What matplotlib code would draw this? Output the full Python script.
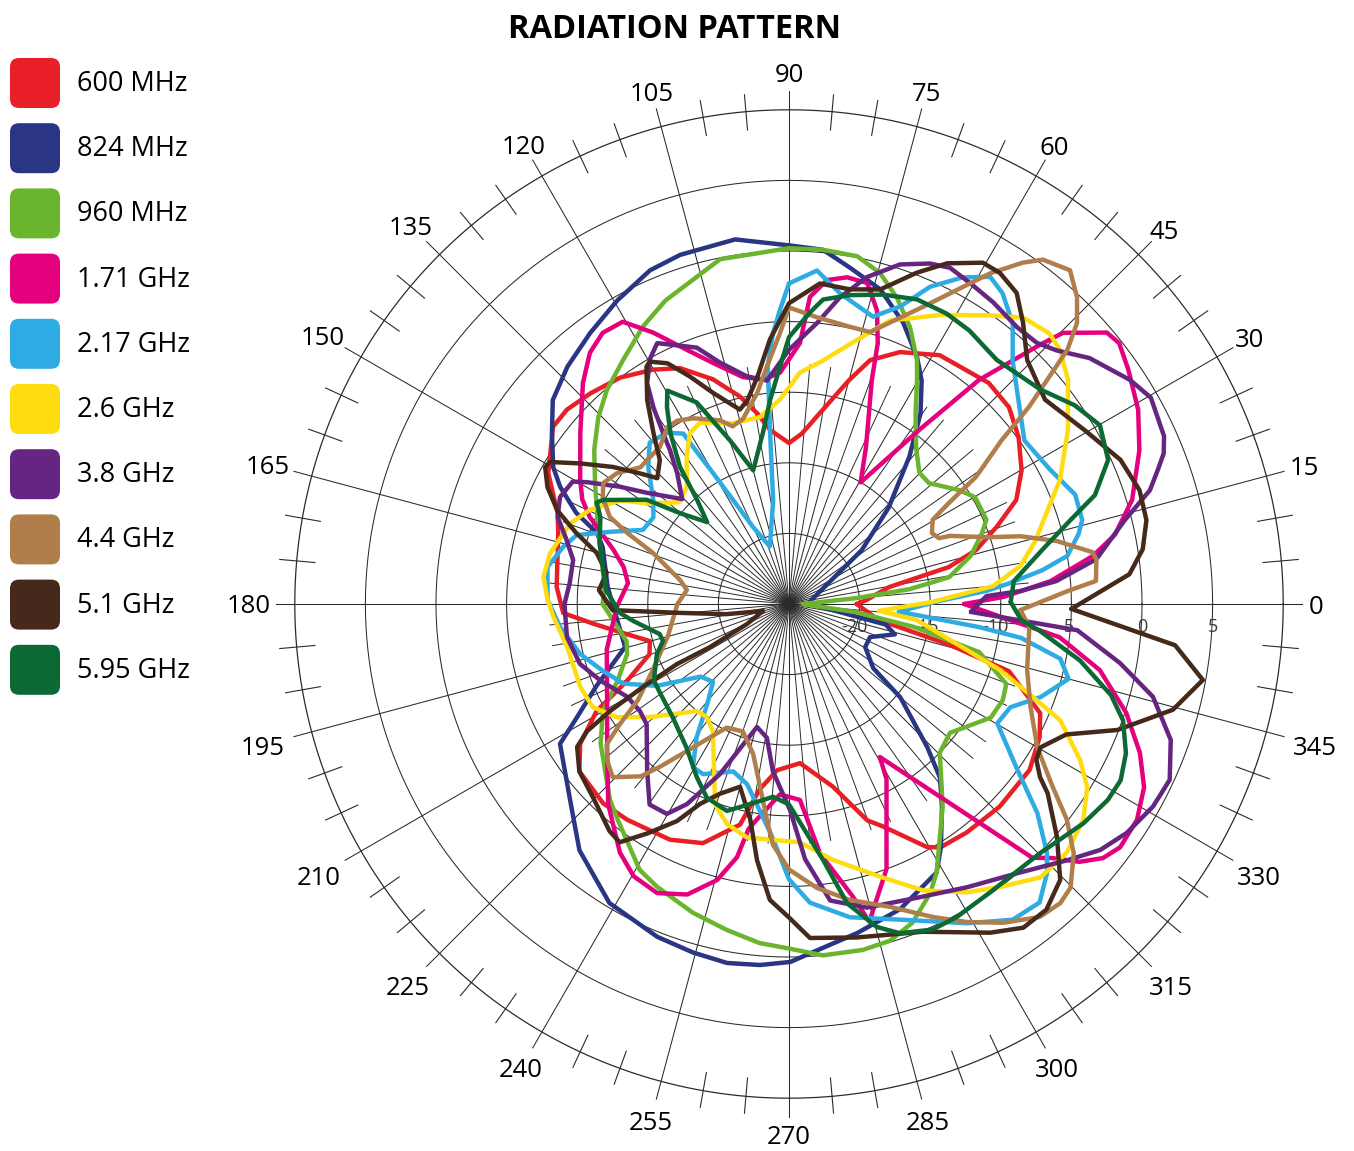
import numpy as np
import matplotlib
matplotlib.use("Agg")
import matplotlib.pyplot as plt
from matplotlib.patches import FancyBboxPatch

plt.rcParams['font.family'] = ['Open Sans', 'DejaVu Sans']

# ---------------- data (angle in degrees, gain in dB) ----------------
series_names = ["600 MHz", "824 MHz", "960 MHz", "1.71 GHz", "2.17 GHz",
                "2.6 GHz", "3.8 GHz", "4.4 GHz", "5.1 GHz", "5.95 GHz"]
series_colors = ["#E81F26", "#2A3584", "#6AB42E", "#E5007D", "#2EABE2",
                 "#FFDC0F", "#652581", "#B07E4B", "#45291A", "#0C6934"]

ang_600 = [0, 3, 9.6, 13, 16.1, 20.4, 24.6, 29.9, 36, 41.8, 47.9, 58.8, 66.2, 71.6, 75, 80.3,
           85.7, 90, 96.2, 99.5, 103.3, 108.7, 114.8, 120.2, 126.7, 133.3, 138.8, 143.1, 151.5,
           158.6, 162.9, 175.8, 182.3, 185.8, 190.5, 194.9, 199.8, 205.4, 209.1, 213.8, 218.6,
           227, 233.1, 243.2, 250.2, 257.5, 261, 265.9, 274, 283.5, 289.9, 292.9, 299.6, 301.9,
           307.9, 316.1, 325.4, 332, 336.5, 343, 345.7, 350]
val_600 = [-20.2, -19.5, -17.8, -13.4, -11.2, -9.3, -7.3, -6, -4.9, -4.1, -3.9, -4.4, -5.5, -6.8,
           -8.6, -11.1, -12.9, -13.6, -12.6, -11.3, -9.9, -8.2, -6.6, -5.8, -5.0, -4.5, -4.1,
           -4.1, -5.6, -7.4, -7.9, -8.5, -9, -11.1, -13.3, -14.8, -14.5, -12.3, -9.4, -7.2, -6,
           -5.7, -5.9, -6.3, -7, -9, -11.7, -13.2, -13.7, -11.7, -8.7, -7.9, -5.2, -4.7, -4.5,
           -4.3, -4.3, -4.9, -5.6, -8.7, -13.2, -18.6]

ang_824 = [0, 10, 36.5, 44, 50.8, 55.4, 59.3, 62.6, 67.9, 73.8, 79.7, 84.5, 90, 98.4, 107.3,
           112.6, 119.5, 126.3, 133, 139.2, 144.2, 149.9, 152.9, 156.8, 159.7, 163, 174.6, 180,
           194.7, 203, 209, 211.4, 221.8, 229.6, 239, 248.4, 254.6, 260.2, 265.4, 270.2, 281.7,
           290, 298.8, 302, 307, 311, 314, 320, 322.7, 330.5, 337.8, 344, 348, 359]
val_824 = [-23.5, -23.4, -18.6, -15.2, -11.5, -8.6, -6.6, -5.3, -3.5, -1.8, -0.8, 0.2, 0.4, 1.1,
           0.9, 0.6, -0.3, -1.2, -2, -2.9, -4.3, -5.7, -6.8, -8.6, -10.5, -11.2, -12.1, -12.5,
           -13, -10.2, -7.5, -6, -4.2, -2.1, -0.3, 0.35, 0.6, 0.8, 0.65, 0.35, -1.2, -2, -3.3,
           -4.7, -7, -8.7, -10.9, -14.7, -17.5, -18.8, -18.8, -17.2, -18, -23.4]

ang_960 = [0, 5, 7, 9.5, 14.8, 19.9, 23.1, 29.8, 33.8, 40.8, 45.2, 51, 56.4, 60.3, 62.3, 66.4,
           70.6, 74.6, 78.9, 84.5, 90, 101.3, 112.2, 117.8, 124.2, 130.4, 135.6, 141.6, 148,
           155.6, 164, 174.7, 180, 192.9, 197.2, 204.1, 209.9, 216.5, 227.6, 231.5, 240.7, 245,
           252.7, 259.2, 265, 270, 275.5, 282, 286.7, 291.2, 296, 298.8, 307.2, 315.4, 321.3,
           330.6, 335.8, 339.8, 345.8, 349.6, 353]
val_960 = [-24, -20.2, -16.4, -13.5, -11.7, -10.5, -9.8, -9.8, -10.5, -11.9, -11.9, -10.7, -8.8,
           -6.7, -5.5, -3.6, -2, -0.7, 0.1, 0.2, 0.2, -0.1, -1.8, -2.8, -4.1, -5.1, -6.1, -7.4,
           -8.8, -10.1, -11.1, -11.9, -11.8, -13.2, -13, -11.7, -9.8, -8.4, -6.2, -5.5, -3.4,
           -2.9, -2.1, -1.5, -0.9, -0.6, 0, 0.05, -0.1, -0.8, -2.2, -3.3, -7, -10, -10.4, -8.6,
           -8.4, -8.6, -11.1, -16, -20.2]

ang_1710 = [0, 1.9, 5, 9, 12, 16.9, 23.7, 29.1, 34.6, 38.3, 40.5, 44.7, 45.9, 49.7, 53.2, 59.5,
            63.9, 69.7, 71.2, 73.3, 76.3, 79.9, 83.3, 86.1, 87.6, 92.2, 96.6, 101.5, 107.5,
            111.9, 116.6, 120.5, 124.5, 128.4, 133, 140.7, 149.3, 153.2, 156.4, 162.9, 167.4,
            172.6, 181, 194, 208.8, 218.7, 227.9, 235.8, 240.3, 245.5, 250.7, 255.4, 258.4,
            259.8, 261.6, 267.3, 273.2, 277.1, 282.3, 284.2, 290.2, 299.1, 300.7, 313.8, 316,
            318.4, 321, 323.7, 328.2, 332.7, 337, 342.1, 348, 353]
val_1710 = [-12.6, -9.8, -6.4, -3.2, -1.4, 0.4, 2.1, 3.3, 4.2, 4.8, 4.6, 2.3, 0.6, -4.2, -9.6,
            -15, -12.6, -8.1, -5.5, -3.3, -1.6, -1.5, -1.9, -3.2, -6.5, -8.6, -9, -8.6, -7.1,
            -5.6, -3.5, -1.8, -1.7, -2.3, -3.6, -5.9, -7.8, -8.6, -9.6, -12, -13, -13.5, -12.8,
            -11.7, -10.3, -8.5, -5.9, -3.7, -2.8, -2.5, -3.2, -4.8, -6.7, -8.8, -9.6, -11.5,
            -11.1, -7.2, -3.8, -1.8, -5, -10.8, -12.4, -0.1, 0.9, 2.5, 3.6, 4.1, 4, 3.3, 2, 0.1,
            -2.5, -5.7]

ang_2170 = [90, 85.2, 80.7, 73.7, 69.5, 66, 62, 58.4, 55.5, 51.4, 47.4, 34.8, 27.2, 20.9, 16,
            13.6, 9.8, 7.6, 5.2, 3.8, 1, 356, 353.1, 351.7, 348.6, 345, 339.7, 335, 330.2, 324,
            319.9, 316, 313.8, 310, 305.3, 299.2, 289.4, 281, 274, 270, 266, 262, 256.9, 251.6,
            243.2, 239.5, 235.3, 230.6, 225.7, 219.4, 211.8, 205.7, 199.8, 193.5, 185.7, 179,
            171.3, 165.8, 162, 158.1, 153.1, 147.4, 142.6, 135.8, 130.8, 125.5, 121.8, 121.4,
            120.1, 118.3, 115, 108.4, 98.7, 96.3, 95.1, 93.4, 91.8]
val_2170 = [-2.3, -1.3, -2.7, -3.8, -2.5, -0.4, 1.2, 2.2, 1.7, 0.4, -1.6, -4.7, -4.2, -3.3, -3.4,
            -3.9, -5, -6.9, -9.5, -11, -14.5, -17.2, -11.5, -8.4, -5.4, -4.5, -6, -7.7, -8, -5,
            -2, 0.4, 1.4, 2.6, 2.4, 0.9, -1.3, -2.4, -3.8, -5.5, -8.4, -10.2, -11.9, -12.5,
            -11.5, -11.6, -13.5, -15.9, -17.3, -16.9, -14, -12, -11, -9.8, -8.7, -7.9, -7.7,
            -8.5, -9.2, -11.3, -13.4, -13.6, -12.9, -11.1, -9.9, -10.1, -10.8, -12, -14.3,
            -16.6, -19, -20.7, -17.6, -12.8, -8.1, -5.8, -4.2]

ang_2600 = [355.6, 0.8, 5, 9.3, 14.3, 18.3, 24.6, 32, 38.8, 43.1, 46.1, 50.7, 55.2, 62.4, 70.4,
            75.6, 82.1, 87.3, 92.5, 98.8, 107.2, 116.2, 120.1, 124.8, 131.1, 137.2, 144.6,
            148.4, 154.7, 159.7, 168, 173.7, 179, 183.2, 191, 201.7, 207.7, 213.3, 219.1,
            229.3, 234, 239.1, 249.7, 254.3, 259.8, 272.6, 279.8, 289, 295.1, 301.7, 306.7,
            312.6, 318.1, 323.7, 328.4, 331.8, 336.8, 339.1, 342.6, 347.4, 352.9]
val_2600 = [-18.6, -14.9, -10.5, -8.4, -7, -6, -3.9, -1.7, 0.35, 1.3, 1.6, 1.2, -0.1, -1.9,
            -3.7, -5.7, -7.6, -8.6, -10.5, -11.6, -11.6, -10.7, -11, -12.3, -14, -14.4, -12.7,
            -11, -9.4, -8.5, -7.7, -7.5, -7.9, -8.3, -9, -9.1, -9.3, -10.4, -12.3, -15, -15.1,
            -14.5, -9.9, -8.8, -8.2, -8.1, -6.6, -4.5, -2.6, -1, 0, 1.3, 1.4, 0.85, -0.2, -1.6,
            -4.1, -6.5, -9.3, -13.3, -15.9]

ang_3800 = [357.5, 2.3, 3.2, 4.9, 8.3, 14, 17.5, 20, 21.9, 24.1, 29.7, 33.3, 39.3, 43.5, 46.5,
            50.5, 55.9, 60.6, 64.4, 67.5, 71.9, 76.6, 80.6, 84.3, 90, 95.6, 100.5, 106, 109.8,
            116.8, 119.4, 122.7, 124.6, 126.4, 127.7, 130.5, 135.5, 142, 145.3, 148.9, 150.5,
            155, 159.4, 163.9, 168.5, 174.5, 180, 188.5, 196, 202.2, 209.9, 215.7, 220.2,
            229.6, 235.2, 239.8, 243, 247.9, 255.4, 260.6, 264.5, 270.3, 273.6, 277.9, 284.4,
            293.6, 302.2, 310.3, 317.4, 321.7, 325.9, 330.9, 335.2, 340.4, 345.7, 349.9, 354.8]
val_3800 = [-12.1, -11, -8.6, -6, -3, -0.5, 1.8, 2.8, 3.6, 4.1, 4.5, 3.9, 2.5, 1.1, 0.5, 0.4,
            0.8, 1.1, 1.4, 1.1, 0.3, -1.2, -3, -5, -7, -9.1, -8.6, -7.2, -5.7, -4.3, -5, -6.4,
            -8.1, -10, -11.2, -12.8, -14.4, -12.2, -10.4, -8.3, -7.4, -7.1, -7.5, -8.6, -9.4,
            -9.4, -9.1, -9.1, -9.6, -10.6, -11.8, -12, -11.8, -9.5, -7.7, -7.8, -9.1, -12, -16,
            -15.4, -13.1, -10.4, -6.9, -3.8, -2.8, -2.3, -1.3, 0, 1.8, 3.1, 3.9, 4.5, 4.7, 3.7,
            1.6, -1.2, -4.5]

ang_4400 = [358.5, 2.7, 4.3, 8.3, 9.7, 13.2, 16.3, 18.5, 22.9, 23.7, 26.4, 30.4, 32.3, 34.2,
            37.6, 39.4, 42.4, 44.3, 46.8, 49.9, 53.6, 55.6, 58.7, 61.9, 65.7, 70.2, 73.4, 77.6,
            84.4, 90, 91.9, 95.3, 98.6, 104, 107.6, 110.6, 117.3, 121.3, 124.6, 129.4, 137.4,
            142.7, 146.9, 150.2, 154.1, 156.3, 159.4, 167.6, 172.2, 180, 195.1, 206.2, 212.5,
            215.4, 217.6, 220.8, 224.5, 229.3, 231.6, 235.2, 239.3, 243.3, 250.1, 256.5, 261,
            264.2, 266.2, 270, 275.6, 281.6, 288.4, 294.7, 299.2, 303.9, 308.7, 312.2, 314.8,
            318.8, 322.2, 325.3, 330, 336.9, 344.5, 354.5]
val_4400 = [-8.6, -5.2, -3.2, -3, -3.2, -5.5, -7.9, -10.1, -12.6, -13.4, -13.7, -13.2, -11.6,
            -9, -6, -3, 1.7, 3.5, 4.8, 5.9, 5.3, 4.3, 2.4, 0.2, -1.9, -3.8, -4.9, -4.9, -4.6,
            -4, -5.8, -8.1, -9.9, -11.5, -11.8, -11.1, -10.2, -9.8, -9.8, -10.6, -10.7, -9.7,
            -9.3, -9.8, -10.9, -12.5, -14.7, -17.1, -17.7, -17.1, -16.1, -14.2, -12.3, -10.3,
            -8.7, -8, -7.5, -8.9, -10.3, -12.3, -14, -15.2, -15.4, -14.1, -11.9, -9.6, -7.9,
            -6.2, -4.8, -3.6, -2.4, -0.6, 0.8, 2.2, 3.4, 3.6, 3.3, 1.8, -0.1, -2.3, -4.7, -6.4,
            -7.5, -7.9]

ang_5100 = [359, 5, 8.8, 13.2, 18, 23.5, 30.4, 38.6, 45.7, 50.2, 53.8, 57.5, 60.4, 65.1, 68.9,
            73.8, 79, 84.5, 90, 94.1, 98, 101.6, 104.2, 109.8, 113.6, 116.8, 119.9, 121, 124.8,
            128.5, 131.9, 136.3, 138.7, 142.1, 146, 149.3, 150.7, 154.2, 158, 161.5, 165.1,
            170.3, 175.8, 182, 184.7, 189.2, 195, 205.5, 208.6, 208.2, 209.6, 210.9, 212.2,
            214, 218.6, 224.6, 231.7, 234.6, 238.3, 242.7, 246, 250, 255, 259.8, 262.9, 266.3,
            270, 273.6, 281.5, 292.2, 301.5, 305.9, 310.1, 314.5, 319, 323.8, 325.4, 327.8,
            330.3, 334.8, 339, 344.6, 349.6, 353.9]
val_5100 = [-5, -0.8, 0.35, 1, 1.1, 0.6, -0.7, -1.8, -0.85, 0.9, 2.3, 2.8, 2.8, 1.6, 0.15,
            -1.8, -2.3, -2.2, -3.7, -6.2, -8.8, -10.3, -10.8, -9.1, -7.4, -5.9, -5.2, -5.4,
            -7.4, -9.6, -11.3, -12.1, -11, -9.2, -7.2, -5.3, -5.2, -6, -7.3, -9.1, -10.9,
            -11.9, -11.5, -12.5, -17.3, -20.5, -23.1, -21.7, -18.6, -16, -13.1, -10.2, -8.1,
            -6.9, -6, -5.5, -4.5, -4.3, -5.9, -7.7, -9.5, -10.7, -11.6, -9.5, -6.7, -4, -2.8,
            -1.3, -0.9, 0.07, 2.3, 3.3, 3.3, 2.4, 0.15, -2.3, -3.4, -4.3, -4.5, -3.3, -0.1, 3.2,
            4.8, 2.5]

ang_5950 = [0.5, 5.8, 12.2, 16.6, 19.6, 24.3, 29.9, 34.8, 40.5, 49.6, 56.6, 61.5, 67.2, 73.1,
            78.8, 83.6, 85.9, 90, 92.2, 95.3, 98.6, 105, 109.8, 114.6, 119.7, 121.8, 124.8,
            128.5, 131.5, 135, 140.1, 143.8, 150.8, 152.2, 155.3, 162.1, 175.6, 183, 186.2,
            193.1, 196.4, 200.7, 209.5, 214.9, 224.3, 234.5, 242, 247, 253.3, 260.8, 265.3,
            270, 277.6, 281, 285.2, 288.6, 293.8, 298.2, 304.8, 315.2, 323.3, 328.4, 332, 336.1,
            340.8, 344.2, 349, 354, 356]
val_5950 = [-9.3, -9, -6.6, -4.2, -2, -0.2, 0.4, -0.35, -1.6, -2.3, -1.8, -1.6, -1.6, -2.1,
            -2.7, -3.3, -4.3, -6.1, -8.2, -10.5, -12.7, -15.2, -12.7, -9.3, -7.6, -8.6, -10.3,
            -12.6, -15.2, -16.8, -15, -12.5, -9.9, -9.6, -10.3, -10.9, -12, -13, -13.9, -15.6,
            -15.7, -15, -14, -13.9, -13.5, -12.5, -11.1, -10.1, -9.7, -10.8, -11.3, -10.8, -6.7,
            -3.4, -1.3, -0.4, 0.2, 0.15, -0.1, 0.05, 1, 1.5, 1.6, 1.1, 0.05, -1.3, -4, -7.2, -8.5]

series_angles = [ang_600, ang_824, ang_960, ang_1710, ang_2170,
                 ang_2600, ang_3800, ang_4400, ang_5100, ang_5950]
series_values = [val_600, val_824, val_960, val_1710, val_2170,
                 val_2600, val_3800, val_4400, val_5100, val_5950]

ring_values = [-20, -15, -10, -5, 0, 5]
ring_labels = ["-20", "-15", "-10", "-5", "0", "5"]
angle_labels = list(range(0, 360, 15))
title_text = "RADIATION PATTERN"

# ---------------- figure ----------------
W, H = 1354, 1151
fig = plt.figure(figsize=(W / 100, H / 100), dpi=100)

cx, cy = 789, 604           # centre of the polar plot in pixels
r_lo, r_hi = -25.0, 13.0
px_per_db = 14.12
R = (r_hi - r_lo) * px_per_db
ax = fig.add_axes([(cx - R) / W, (H - cy - R) / H, 2 * R / W, 2 * R / H], projection='polar')
ax.set_ylim(r_lo, r_hi)
ax.set_xticks([])
ax.set_yticks([])
ax.grid(False)
ax.spines['polar'].set_visible(False)
ax.patch.set_alpha(0)

grid_col = "#2b2b2b"
th = np.linspace(0, 2 * np.pi, 721)
for v in ring_values:
    ax.plot(th, np.full_like(th, v), color=grid_col, lw=0.75, zorder=1)
ax.plot(th, np.full_like(th, 10), color=grid_col, lw=0.9, zorder=1)

for a in range(0, 360, 5):
    t = np.deg2rad(a)
    if a % 15 == 0:
        ax.plot([t, t], [r_lo, 11.3], color=grid_col, lw=0.75, zorder=1)
    else:
        ax.plot([t, t], [r_lo, -8], color=grid_col, lw=0.7, zorder=1)
        ax.plot([t, t], [8.7, 11.2], color=grid_col, lw=0.8, zorder=1)

for v, lab in zip(ring_values, ring_labels):
    dx = -5 if lab.startswith("-") else 0
    ax.annotate(lab, xy=(0, v), xytext=(dx, -23), textcoords='offset pixels',
                ha='center', va='center', fontsize=13, color="#3c3c3c", zorder=2)

for a in angle_labels:
    lab = str(a)
    t = np.deg2rad(a)
    c, s = abs(np.cos(t)), np.sin(t)
    extra = 5 * min(1.0, 3 * c) if s < -0.01 else 0
    rpx = 521 + max(6.5 * len(lab) * c, 10 * abs(s)) + extra
    ax.annotate(lab, xy=(t, rpx / px_per_db + r_lo), xytext=(0, -3),
                textcoords='offset pixels', ha='center', va='center',
                fontsize=18.5, color='black', annotation_clip=False)

for angs, vals, col in zip(series_angles, series_values, series_colors):
    t = np.deg2rad(list(angs) + [angs[0]])
    v = list(vals) + [vals[0]]
    ax.plot(t, v, color=col, lw=3.2, solid_joinstyle='round', solid_capstyle='round', zorder=3)

# ---------------- title + legend (pixel axes) ----------------
lax = fig.add_axes([0, 0, 1, 1])
lax.set_xlim(0, W)
lax.set_ylim(H, 0)
lax.axis('off')
lax.patch.set_alpha(0)

lax.text(674, 29, title_text, ha='center', va='center', fontsize=23.5, fontweight='bold')

for i, (name, col) in enumerate(zip(series_names, series_colors)):
    yc = 83 + 65.2 * i
    box = FancyBboxPatch((10, yc - 25), 50, 50,
                         boxstyle="round,pad=0,rounding_size=9",
                         facecolor=col, edgecolor='none')
    lax.add_patch(box)
    lax.text(77, yc + 1, name, ha='left', va='center', fontsize=19.5)

fig.savefig("out.png", dpi=100)
